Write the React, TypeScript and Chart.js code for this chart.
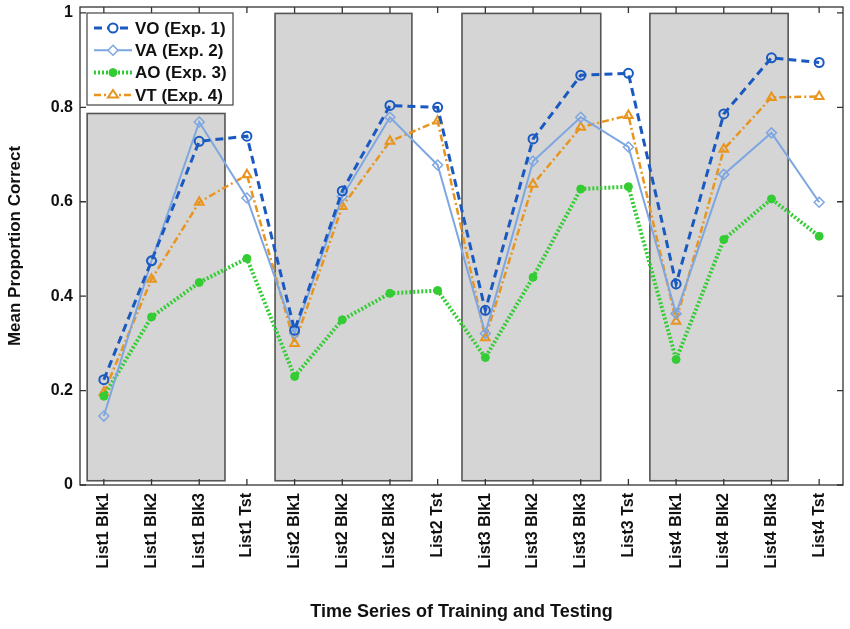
import React, { useEffect, useRef } from "react";
import { Chart, registerables } from "chart.js";

Chart.register(...registerables);

const categories = [
  "List1 Blk1", "List1 Blk2", "List1 Blk3", "List1 Tst",
  "List2 Blk1", "List2 Blk2", "List2 Blk3", "List2 Tst",
  "List3 Blk1", "List3 Blk2", "List3 Blk3", "List3 Tst",
  "List4 Blk1", "List4 Blk2", "List4 Blk3", "List4 Tst",
];

const voValues = [0.223, 0.475, 0.728, 0.739, 0.328, 0.623, 0.804, 0.800, 0.370, 0.733, 0.868, 0.872, 0.426, 0.786, 0.905, 0.895];
const vaValues = [0.146, 0.475, 0.769, 0.608, 0.321, 0.611, 0.779, 0.678, 0.321, 0.686, 0.779, 0.716, 0.363, 0.658, 0.746, 0.599];
const aoValues = [0.188, 0.356, 0.429, 0.480, 0.230, 0.350, 0.406, 0.412, 0.270, 0.440, 0.627, 0.632, 0.266, 0.520, 0.606, 0.527];
const vtValues = [0.196, 0.436, 0.599, 0.657, 0.300, 0.590, 0.728, 0.771, 0.312, 0.637, 0.758, 0.783, 0.347, 0.711, 0.821, 0.823];

const seriesNames = ["VO (Exp. 1)", "VA (Exp. 2)", "AO (Exp. 3)", "VT (Exp. 4)"];
const yTicks = [0, 0.2, 0.4, 0.6, 0.8, 1];

// shaded training-block regions (category index units / y units)
const shadeStart = [-0.35, 3.59, 7.51, 11.45];
const shadeEnd = [2.54, 6.46, 10.42, 14.35];
const shadeTop = [0.787, 0.999, 0.999, 0.999];
const shadeBottom = 0.009;

const FONT = "'Liberation Sans', Arial, sans-serif";

const styles = [
  { color: "#1a5ac0", dash: [8, 5], width: 3, point: "circle", radius: 4.5, fill: "rgba(0,0,0,0)", pbw: 2 },
  { color: "#7ea6e0", dash: [], width: 2, point: "rectRot", radius: 5, fill: "rgba(0,0,0,0)", pbw: 1.5 },
  { color: "#33cc33", dash: [2, 2], width: 4, point: "circle", radius: 4, fill: "#33cc33", pbw: 1 },
  { color: "#e8951f", dash: [7, 3, 2, 3], width: 2.5, point: "triangle", radius: 5, fill: "rgba(0,0,0,0)", pbw: 2 },
];

function drawMarker(ctx: CanvasRenderingContext2D, kind: string, x: number, y: number, r: number) {
  ctx.beginPath();
  if (kind === "circle") {
    ctx.arc(x, y, r, 0, Math.PI * 2);
  } else if (kind === "rectRot") {
    ctx.moveTo(x, y - r);
    ctx.lineTo(x + r, y);
    ctx.lineTo(x, y + r);
    ctx.lineTo(x - r, y);
    ctx.closePath();
  } else {
    const h = r * 1.5;
    ctx.moveTo(x, y - h * 0.66);
    ctx.lineTo(x + r, y + h * 0.34);
    ctx.lineTo(x - r, y + h * 0.34);
    ctx.closePath();
  }
}

const shadePlugin = {
  id: "shade",
  beforeDatasetsDraw(chart: any) {
    const { ctx } = chart;
    const xs = chart.scales.x;
    const ys = chart.scales.y;
    ctx.save();
    for (let i = 0; i < shadeStart.length; i++) {
      const x1 = xs.getPixelForValue(shadeStart[i]);
      const x2 = xs.getPixelForValue(shadeEnd[i]);
      const y1 = ys.getPixelForValue(shadeTop[i]);
      const y2 = ys.getPixelForValue(shadeBottom);
      ctx.fillStyle = "#d5d5d5";
      ctx.fillRect(x1, y1, x2 - x1, y2 - y1);
      ctx.strokeStyle = "#555555";
      ctx.lineWidth = 1.6;
      ctx.strokeRect(x1, y1, x2 - x1, y2 - y1);
    }
    ctx.restore();
  },
};

const framePlugin = {
  id: "frame",
  afterDraw(chart: any) {
    const { ctx, chartArea } = chart;
    const { left, right, top, bottom } = chartArea;
    const xs = chart.scales.x;
    const ys = chart.scales.y;
    ctx.save();
    ctx.strokeStyle = "#333333";
    ctx.lineWidth = 1.3;
    ctx.strokeRect(left, top, right - left, bottom - top);
    ctx.beginPath();
    const tl = 6;
    for (let i = 0; i < categories.length; i++) {
      const x = xs.getPixelForValue(i);
      ctx.moveTo(x, bottom);
      ctx.lineTo(x, bottom - tl);
      ctx.moveTo(x, top);
      ctx.lineTo(x, top + tl);
    }
    for (const v of yTicks) {
      const y = ys.getPixelForValue(v);
      ctx.moveTo(left, y);
      ctx.lineTo(left + tl, y);
      ctx.moveTo(right, y);
      ctx.lineTo(right - tl, y);
    }
    ctx.stroke();

    // legend inside axes
    const lx = left + 7;
    const ly = top + 6;
    const lw = 146;
    const lh = 92;
    ctx.fillStyle = "#ffffff";
    ctx.fillRect(lx, ly, lw, lh);
    ctx.strokeStyle = "#444444";
    ctx.lineWidth = 1.2;
    ctx.strokeRect(lx, ly, lw, lh);
    for (let i = 0; i < seriesNames.length; i++) {
      const s = styles[i];
      const y = ly + 15 + i * 22.3;
      ctx.save();
      ctx.strokeStyle = s.color;
      ctx.lineWidth = s.width;
      ctx.setLineDash(s.dash);
      ctx.beginPath();
      ctx.moveTo(lx + 7, y);
      ctx.lineTo(lx + 45, y);
      ctx.stroke();
      ctx.setLineDash([]);
      ctx.lineWidth = s.pbw;
      drawMarker(ctx, s.point, lx + 26, y, s.radius);
      if (s.point === "circle" && s.fill !== "rgba(0,0,0,0)") {
        ctx.fillStyle = s.fill;
        ctx.fill();
      } else {
        ctx.fillStyle = "#ffffff";
        ctx.fill();
      }
      ctx.stroke();
      ctx.restore();
      ctx.fillStyle = "#111111";
      ctx.font = `bold 17px ${FONT}`;
      ctx.textAlign = "left";
      ctx.textBaseline = "middle";
      ctx.fillText(seriesNames[i], lx + 48, y + 1);
    }
    ctx.restore();
  },
};

export default function App() {
  const ref = useRef<HTMLCanvasElement>(null);
  useEffect(() => {
    if (!ref.current) return;
    const all = [voValues, vaValues, aoValues, vtValues];
    const chart = new Chart(ref.current, {
      type: "line",
      data: {
        labels: categories,
        datasets: all.map((vals, i) => ({
          label: seriesNames[i],
          data: vals,
          borderColor: styles[i].color,
          borderWidth: styles[i].width,
          borderDash: styles[i].dash,
          pointStyle: styles[i].point as any,
          pointRadius: styles[i].radius,
          pointBorderWidth: styles[i].pbw,
          pointBackgroundColor: styles[i].fill,
          pointBorderColor: styles[i].color,
          tension: 0,
          fill: false,
        })),
      },
      options: {
        animation: false,
        responsive: false,
        devicePixelRatio: 1,
        layout: { padding: { left: 0, right: 7, top: 4, bottom: 0 } },
        plugins: {
          legend: { display: false },
          tooltip: { enabled: false },
        },
        scales: {
          x: {
            type: "category",
            offset: true,
            grid: { display: false, drawTicks: false },
            border: { display: false },
            ticks: {
              color: "#111111",
              font: { family: FONT, size: 16, weight: "bold" },
              minRotation: 90,
              maxRotation: 90,
              padding: 8,
              autoSkip: false,
            },
            title: {
              display: true,
              text: "Time Series of Training and Testing",
              color: "#111111",
              font: { family: FONT, size: 18, weight: "bold" },
              padding: { top: 0, bottom: 6 },
            },
            afterFit(scale: any) {
              scale.height = 144;
              scale.paddingLeft = 0;
              scale.paddingRight = 0;
            },
          },
          y: {
            min: 0,
            max: 1.0126,
            grid: { display: false, drawTicks: false },
            border: { display: false },
            ticks: {
              stepSize: 0.2,
              includeBounds: false,
              color: "#111111",
              font: { family: FONT, size: 16, weight: "bold" },
              padding: 7,
              callback: (v: any) => {
                const n = Number(v);
                return yTicks.some((t) => Math.abs(t - n) < 1e-6) ? String(Math.round(n * 10) / 10) : "";
              },
            },
            title: {
              display: true,
              text: "Mean Proportion Correct",
              color: "#111111",
              font: { family: FONT, size: 17, weight: "bold" },
              padding: { top: 5, bottom: 0 },
            },
            afterFit(scale: any) {
              scale.width = 80;
              scale.paddingTop = 0;
              scale.paddingBottom = 0;
            },
          },
        },
      },
      plugins: [shadePlugin, framePlugin],
    });
    return () => chart.destroy();
  }, []);
  return (
    <div style={{ position: "absolute", left: 0, top: 0, width: 850, height: 629, background: "#fff" }}>
      <canvas ref={ref} width={850} height={629} style={{ width: 850, height: 629 }} />
    </div>
  );
}
